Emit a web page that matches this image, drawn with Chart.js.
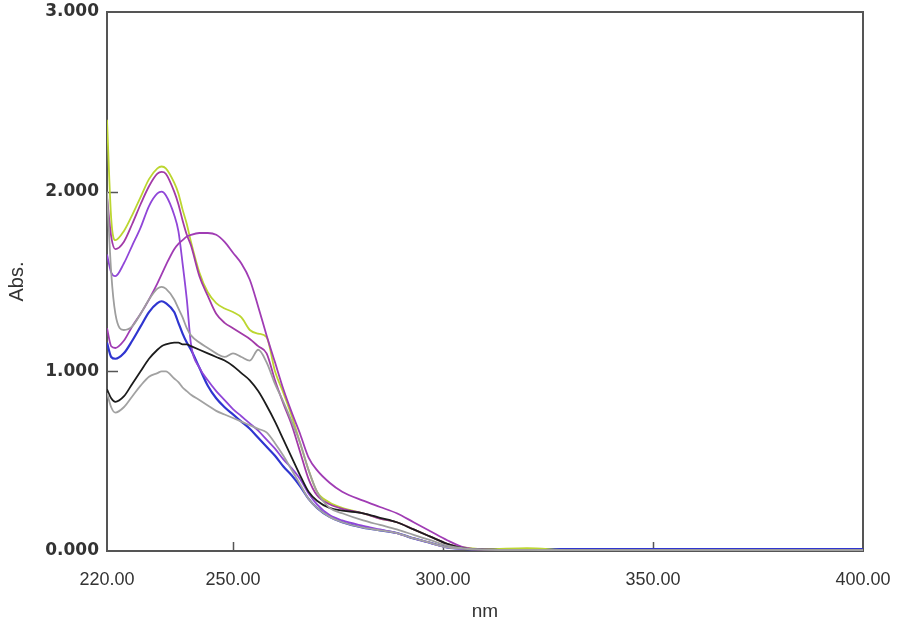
<!DOCTYPE html>
<html>
<head>
<meta charset="utf-8">
<script src="https://cdn.jsdelivr.net/npm/chart.js@4.4.1/dist/chart.umd.min.js"></script>
<style>
    html, body { margin: 0; padding: 0; background: #fff; }
    #wrap { width: 898px; height: 626px; }
</style>
</head>
<body>
<div id="wrap"><canvas id="spec" width="898" height="626"></canvas></div>
<script>
// 波长 (nm)
const wavelengths = [220, 221, 222, 224, 226, 228, 230, 232, 233, 234, 236, 237, 238, 239, 240, 242, 244, 246, 248, 250,
    252, 254, 256, 258, 260, 262, 264, 266, 268, 270, 273, 276, 281, 285, 289, 293, 297, 301, 305, 310, 320, 330, 350, 375, 400];

// 吸光度
const yellowAbs = [2.40, 1.85, 1.73, 1.78, 1.87, 1.97, 2.07, 2.13, 2.14, 2.13, 2.05, 1.99, 1.90, 1.82, 1.72, 1.55, 1.44, 1.38, 1.35, 1.33,
    1.30, 1.23, 1.21, 1.19, 1.00, 0.88, 0.75, 0.60, 0.45, 0.33, 0.27, 0.24, 0.21, 0.18, 0.16, 0.12, 0.08, 0.04, 0.02, 0.01, 0.016, 0.006, 0.005, 0.005, 0.005];
const magentaAbs = [1.97, 1.75, 1.68, 1.72, 1.82, 1.93, 2.03, 2.10, 2.11, 2.10, 2.00, 1.93, 1.84, 1.76, 1.70, 1.53, 1.42, 1.32, 1.27, 1.24,
    1.21, 1.18, 1.14, 1.10, 0.95, 0.82, 0.70, 0.55, 0.40, 0.31, 0.26, 0.235, 0.21, 0.18, 0.16, 0.12, 0.08, 0.04, 0.015, 0.008, 0.006, 0.005, 0.005, 0.005, 0.005];
const violetAbs = [1.65, 1.55, 1.53, 1.60, 1.70, 1.80, 1.92, 1.99, 2.00, 1.98, 1.87, 1.78, 1.60, 1.40, 1.15, 1.02, 0.95, 0.89, 0.84, 0.79,
    0.75, 0.71, 0.67, 0.62, 0.57, 0.51, 0.46, 0.40, 0.32, 0.26, 0.20, 0.17, 0.14, 0.12, 0.10, 0.07, 0.045, 0.02, 0.012, 0.008, 0.006, 0.005, 0.005, 0.005, 0.005];
const broadAbs = [1.24, 1.14, 1.13, 1.17, 1.25, 1.32, 1.40, 1.49, 1.54, 1.59, 1.68, 1.71, 1.73, 1.75, 1.76, 1.77, 1.77, 1.76, 1.72, 1.66,
    1.60, 1.51, 1.36, 1.20, 1.05, 0.90, 0.77, 0.65, 0.52, 0.45, 0.38, 0.33, 0.28, 0.245, 0.21, 0.16, 0.11, 0.06, 0.02, 0.008, 0.006, 0.005, 0.005, 0.005, 0.005];
const grayAbs = [2.00, 1.55, 1.32, 1.23, 1.25, 1.32, 1.40, 1.46, 1.47, 1.46, 1.40, 1.35, 1.30, 1.24, 1.20, 1.16, 1.13, 1.10, 1.08, 1.10,
    1.08, 1.06, 1.12, 1.05, 0.93, 0.83, 0.72, 0.60, 0.45, 0.33, 0.24, 0.21, 0.17, 0.145, 0.12, 0.09, 0.06, 0.03, 0.015, 0.008, 0.006, 0.005, 0.005, 0.005, 0.005];
const blackAbs = [0.90, 0.85, 0.83, 0.86, 0.93, 1.00, 1.07, 1.12, 1.14, 1.15, 1.16, 1.16, 1.15, 1.15, 1.14, 1.12, 1.10, 1.08, 1.06, 1.03,
    0.99, 0.95, 0.89, 0.81, 0.72, 0.62, 0.52, 0.42, 0.33, 0.28, 0.24, 0.225, 0.21, 0.185, 0.16, 0.12, 0.08, 0.04, 0.015, 0.008, 0.006, 0.005, 0.005, 0.005, 0.005];
const gray2Abs = [0.88, 0.80, 0.77, 0.80, 0.86, 0.92, 0.97, 0.99, 1.00, 1.00, 0.96, 0.94, 0.91, 0.89, 0.87, 0.84, 0.81, 0.78, 0.76, 0.74,
    0.72, 0.70, 0.68, 0.66, 0.60, 0.53, 0.45, 0.37, 0.29, 0.24, 0.19, 0.16, 0.13, 0.115, 0.10, 0.07, 0.045, 0.02, 0.012, 0.008, 0.006, 0.005, 0.005, 0.005, 0.005];
const blueAbs = [1.16, 1.08, 1.07, 1.10, 1.17, 1.25, 1.33, 1.38, 1.39, 1.38, 1.33, 1.27, 1.21, 1.16, 1.12, 1.02, 0.92, 0.85, 0.80, 0.76,
    0.72, 0.68, 0.63, 0.58, 0.53, 0.47, 0.42, 0.36, 0.29, 0.24, 0.19, 0.16, 0.13, 0.115, 0.10, 0.07, 0.045, 0.02, 0.012, 0.01, 0.01, 0.01, 0.01, 0.01, 0.01];

// 刻度
const xTicks = [220, 250, 300, 350, 400];
const yTicks = [0, 1, 2, 3];

function toPoints(values) {
    return values.map((v, i) => ({ x: wavelengths[i], y: v }));
}

function series(values, color, width) {
    return {
        data: toPoints(values),
        borderColor: color,
        borderWidth: width || 1.8,
        pointRadius: 0,
        tension: 0.35,
        cubicInterpolationMode: 'monotone',
        fill: false
    };
}

// 边框和内向刻度（画在曲线下面）
const framePlugin = {
    id: 'frame',
    beforeDatasetsDraw(chart) {
        const { ctx, chartArea: a, scales } = chart;
        ctx.save();
        ctx.strokeStyle = '#555';
        ctx.lineWidth = 2;
        ctx.strokeRect(a.left, a.top, a.right - a.left, a.bottom - a.top);
        ctx.lineWidth = 1.5;
        ctx.beginPath();
        xTicks.slice(1, -1).forEach(t => {
            const px = Math.round(scales.x.getPixelForValue(t)) + 0.5;
            ctx.moveTo(px, a.bottom);
            ctx.lineTo(px, a.bottom - 9);
        });
        yTicks.slice(1, -1).forEach(t => {
            const py = Math.round(scales.y.getPixelForValue(t)) + 0.5;
            ctx.moveTo(a.left, py);
            ctx.lineTo(a.left + 11, py);
        });
        ctx.stroke();
        ctx.restore();
    }
};

new Chart(document.getElementById('spec'), {
    type: 'line',
    data: {
        datasets: [
            series(gray2Abs, '#a2a2a2'),
            series(grayAbs, '#9e9e9e'),
            series(blackAbs, '#1c1c1c'),
            series(broadAbs, '#a03cb4'),
            series(magentaAbs, '#a23aa8'),
            series(yellowAbs, '#bcd630'),
            series(violetAbs, '#9046d8'),
            series(blueAbs, '#2f35d0', 2.2)
        ]
    },
    options: {
        responsive: false,
        animation: false,
        layout: { padding: { top: 12, right: 35, left: 0, bottom: 0 } },
        plugins: { legend: { display: false }, tooltip: { enabled: false } },
        scales: {
            x: {
                type: 'linear',
                min: 220,
                max: 400,
                afterBuildTicks: s => { s.ticks = xTicks.map(v => ({ value: v })); },
                afterFit: s => { s.height = 75; s.paddingLeft = 0; s.paddingRight = 0; },
                grid: { display: false },
                border: { display: false },
                ticks: {
                    padding: 10,
                    maxRotation: 0,
                    color: '#333',
                    font: { family: 'Liberation Sans', size: 18 },
                    callback: v => Number(v).toFixed(2)
                },
                title: {
                    display: true,
                    text: 'nm',
                    color: '#333',
                    font: { family: 'Liberation Sans', size: 19 },
                    padding: { top: 0, bottom: 3 }
                }
            },
            y: {
                min: 0,
                max: 3,
                afterBuildTicks: s => { s.ticks = yTicks.map(v => ({ value: v })); },
                afterFit: s => { s.width = 107; s.paddingTop = 0; s.paddingBottom = 0; },
                grid: { display: false },
                border: { display: false },
                ticks: {
                    padding: 0,
                    color: '#333',
                    font: { family: 'DejaVu Sans', size: 17, weight: 'bold' },
                    callback: v => Number(v).toFixed(3)
                },
                title: {
                    display: true,
                    text: 'Abs.',
                    color: '#333',
                    font: { family: 'Liberation Sans', size: 20 },
                    padding: { top: 5, bottom: 0 }
                }
            }
        }
    },
    plugins: [framePlugin]
});
</script>
</body>
</html>
